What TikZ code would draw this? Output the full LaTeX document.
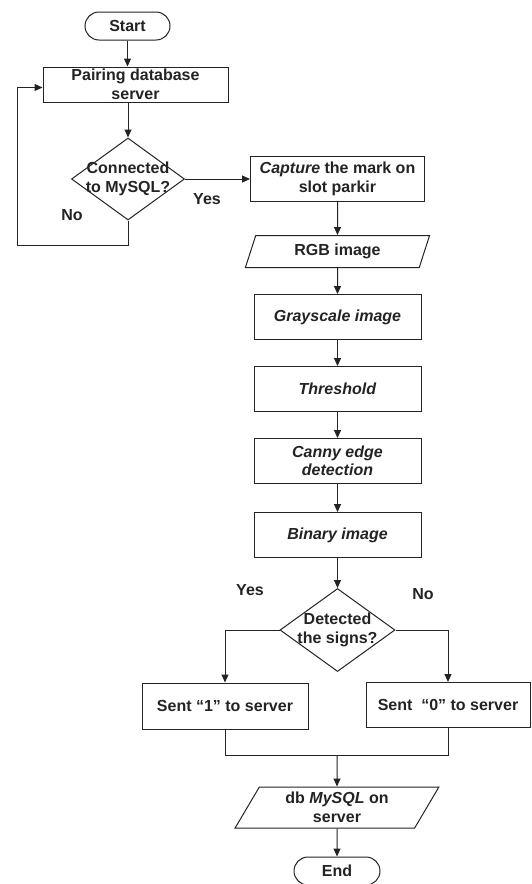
\documentclass[tikz,border=0pt]{standalone}
\usepackage{fontspec}
\setmainfont{Liberation Sans}
\usepackage{tikz}
\usetikzlibrary{arrows.meta,shapes.geometric,shapes.misc,positioning}
\definecolor{inkgray}{RGB}{35,35,35}

\begin{document}
\begin{tikzpicture}[
    x=1pt, y=1pt,
    every node/.style={font=\bfseries\fontsize{16}{18.5}\selectfont, text=inkgray},
    term/.style={rounded rectangle, draw=inkgray, line width=1pt, minimum width=85pt, minimum height=28pt, inner sep=0pt},
    proc/.style={rectangle, draw=inkgray, line width=1pt, minimum width=167pt, minimum height=45pt, align=center, inner sep=0pt},
    io/.style={trapezium, trapezium left angle=70, trapezium right angle=110, trapezium stretches=true, draw=inkgray, line width=1pt, minimum width=186pt, minimum height=32pt, align=center, inner sep=0pt},
    dec/.style={diamond, shape aspect=1.38, draw=inkgray, line width=1pt, minimum width=113pt, minimum height=82pt, align=center, inner sep=-6pt},
    lbl/.style={inner sep=0pt},
    arr/.style={draw=inkgray, line width=1pt, -{Triangle[length=8pt,width=7pt]}},
    line/.style={draw=inkgray, line width=1pt}
]
    \useasboundingbox (0,0) rectangle (531,-884);

    \node[term] (start) at (127.5,-26) {Start};
    \node[proc, minimum width=185pt, minimum height=35pt] (pair) at (135.5,-84.5) {Pairing database\\server};
    \node[dec] (conn) at (128,-179) {Connected\\to MySQL?};
    \node[proc, minimum width=174pt, right=65pt of conn] (cap) {\textit{Capture} the mark on\\slot parkir};
    \node[io, below=33pt of cap] (rgb) {RGB image};
    \node[proc, below=26pt of rgb] (gray) {\textit{Grayscale image}};
    \node[proc, below=26pt of gray] (thresh) {\textit{Threshold}};
    \node[proc, below=26pt of thresh] (canny) {\textit{Canny edge}\\\textit{detection}};
    \node[proc, below=28pt of canny] (bin) {\textit{Binary image}};
    \node[dec, minimum width=115pt, minimum height=83pt, below=30pt of bin] (detect) {Detected\\the signs?};
    \node[proc, minimum width=166pt, minimum height=46pt] (sent1) at (225,-706) {Sent “1” to server};
    \node[proc, minimum width=164pt] (sent0) at (448,-705) {Sent \ “0” to server};
    \coordinate (merge) at (337,-755);
    \node[io, trapezium left angle=62, trapezium right angle=118, minimum width=204pt, minimum height=41pt] (db) at (337,-807.5) {db \textit{MySQL} on\\server};
    \node[term, minimum width=86pt, below=28pt of db] (end) {End};
    \coordinate (loop) at (17,-245);

    \node[lbl] (yes1) at (207,-199) {Yes};
    \node[lbl] (no1) at (72,-215) {No};
    \node[lbl] (yes2) at (250,-590) {Yes};
    \node[lbl] (no2) at (423,-594) {No};

    \draw[arr] (start.south) -- (start.south |- pair.north);
    \draw[arr] (conn.north |- pair.south) -- (conn.north);
    \draw[arr] (conn.south) |- (loop) |- ([yshift=-3pt]pair.west);
    \draw[arr] (conn.east) -- (cap.west);
    \draw[arr] (cap) -- (rgb);
    \draw[arr] (rgb) -- (gray);
    \draw[arr] (gray) -- (thresh);
    \draw[arr] (thresh) -- (canny);
    \draw[arr] (canny) -- (bin);
    \draw[arr] (bin) -- (detect);
    \draw[arr] (detect.west) -| (sent1.north);
    \draw[arr] (detect.east) -| (sent0.north);
    \draw[line] (sent1.south) |- (merge) -| (sent0.south);
    \draw[arr] (merge) -- (db);
    \draw[arr] (db) -- (end);
\end{tikzpicture}
\end{document}
